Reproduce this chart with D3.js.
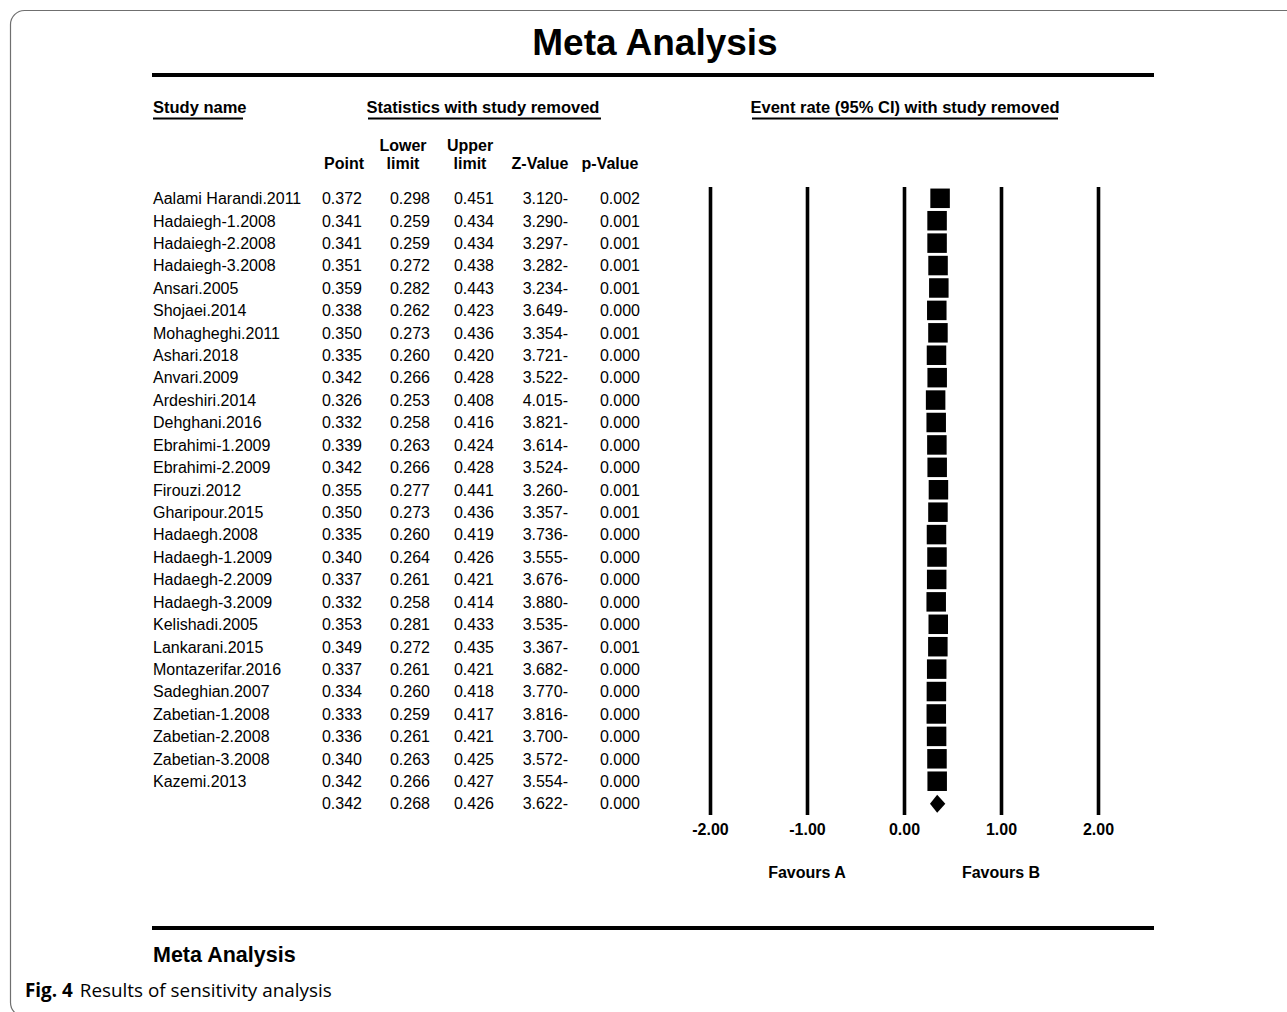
<!DOCTYPE html>
<html>
<head>
<meta charset="utf-8">
<script src="https://cdn.jsdelivr.net/npm/d3@7/dist/d3.min.js"></script>
<style>
  html, body { margin: 0; padding: 0; background: #fff; }
  svg { display: block; }
  text { font-family: "Liberation Sans", Arial, sans-serif; fill: #000; }
</style>
</head>
<body>
<svg id="chart" width="1287" height="1012"></svg>
<script>
// ---------------- data ----------------
const studyNames = [
  "Aalami Harandi.2011", "Hadaiegh-1.2008", "Hadaiegh-2.2008", "Hadaiegh-3.2008",
  "Ansari.2005", "Shojaei.2014", "Mohagheghi.2011", "Ashari.2018", "Anvari.2009",
  "Ardeshiri.2014", "Dehghani.2016", "Ebrahimi-1.2009", "Ebrahimi-2.2009",
  "Firouzi.2012", "Gharipour.2015", "Hadaegh.2008", "Hadaegh-1.2009",
  "Hadaegh-2.2009", "Hadaegh-3.2009", "Kelishadi.2005", "Lankarani.2015",
  "Montazerifar.2016", "Sadeghian.2007", "Zabetian-1.2008", "Zabetian-2.2008",
  "Zabetian-3.2008", "Kazemi.2013"
];
const pointEst = [0.372, 0.341, 0.341, 0.351, 0.359, 0.338, 0.350, 0.335, 0.342,
  0.326, 0.332, 0.339, 0.342, 0.355, 0.350, 0.335, 0.340, 0.337, 0.332, 0.353,
  0.349, 0.337, 0.334, 0.333, 0.336, 0.340, 0.342];
const lowerLimit = [0.298, 0.259, 0.259, 0.272, 0.282, 0.262, 0.273, 0.260, 0.266,
  0.253, 0.258, 0.263, 0.266, 0.277, 0.273, 0.260, 0.264, 0.261, 0.258, 0.281,
  0.272, 0.261, 0.260, 0.259, 0.261, 0.263, 0.266];
const upperLimit = [0.451, 0.434, 0.434, 0.438, 0.443, 0.423, 0.436, 0.420, 0.428,
  0.408, 0.416, 0.424, 0.428, 0.441, 0.436, 0.419, 0.426, 0.421, 0.414, 0.433,
  0.435, 0.421, 0.418, 0.417, 0.421, 0.425, 0.427];
const zValues = [-3.120, -3.290, -3.297, -3.282, -3.234, -3.649, -3.354, -3.721, -3.522,
  -4.015, -3.821, -3.614, -3.524, -3.260, -3.357, -3.736, -3.555, -3.676, -3.880,
  -3.535, -3.367, -3.682, -3.770, -3.816, -3.700, -3.572, -3.554];
const pValues = [0.002, 0.001, 0.001, 0.001, 0.001, 0.000, 0.001, 0.000, 0.000,
  0.000, 0.000, 0.000, 0.000, 0.001, 0.001, 0.000, 0.000, 0.000, 0.000, 0.000,
  0.001, 0.000, 0.000, 0.000, 0.000, 0.000, 0.000];
// overall (summary) row
const summary = { point: 0.342, lower: 0.268, upper: 0.426, z: -3.622, p: 0.000 };

const axisTicks = [-2, -1, 0, 1, 2];
const favourLabels = [{ label: "Favours A", at: -1 }, { label: "Favours B", at: 1 }];
const titleText = "Meta Analysis";
const captionBold = "Fig. 4";
const captionText = "Results of sensitivity analysis";

// ---------------- build ----------------
const rows = studyNames.map((n, i) => ({
  name: n, point: pointEst[i], lower: lowerLimit[i], upper: upperLimit[i],
  z: zValues[i], p: pValues[i], summary: false
}));
rows.push(Object.assign({ name: "", summary: true }, summary));

const svg = d3.select("#chart");
const f3 = d3.format(".3f");
const fmtZ = v => (v < 0 ? f3(-v) + "-" : f3(v));
const fTick = v => (v < 0 ? "-" + d3.format(".2f")(-v) : d3.format(".2f")(v));

// frame
svg.append("rect")
  .attr("x", 10.5).attr("y", 10.5)
  .attr("width", 1400).attr("height", 1006)
  .attr("rx", 14).attr("ry", 14)
  .attr("fill", "none").attr("stroke", "#6f6f6f").attr("stroke-width", 1.2);

// title
svg.append("text").attr("x", 655).attr("y", 55)
  .attr("text-anchor", "middle")
  .style("font-size", "37px").style("font-weight", "bold")
  .text(titleText);

// thick rules
svg.append("line").attr("x1", 152).attr("x2", 1154).attr("y1", 75).attr("y2", 75)
  .attr("stroke", "#000").attr("stroke-width", 4.2);
svg.append("line").attr("x1", 152).attr("x2", 1154).attr("y1", 928).attr("y2", 928)
  .attr("stroke", "#000").attr("stroke-width", 4.2);

// group headers with underlines
const groupHeaders = [
  { text: "Study name", x: 153, anchor: "start", u1: 153, u2: 243 },
  { text: "Statistics with study removed", x: 483, anchor: "middle", u1: 368, u2: 601 },
  { text: "Event rate (95% CI) with study removed", x: 905, anchor: "middle", u1: 752, u2: 1058 }
];
groupHeaders.forEach(h => {
  svg.append("text").attr("x", h.x).attr("y", 113)
    .attr("text-anchor", h.anchor)
    .style("font-size", "16.5px").style("font-weight", "bold")
    .text(h.text);
  svg.append("line").attr("x1", h.u1).attr("x2", h.u2).attr("y1", 118.5).attr("y2", 118.5)
    .attr("stroke", "#000").attr("stroke-width", 1.8);
});

// column headers
const columns = [
  { key: "point", h: ["", "Point"], hx: 344, right: 362, fmt: f3 },
  { key: "lower", h: ["Lower", "limit"], hx: 403, right: 430, fmt: f3 },
  { key: "upper", h: ["Upper", "limit"], hx: 470, right: 494, fmt: f3 },
  { key: "z", h: ["", "Z-Value"], hx: 540, right: 568, fmt: fmtZ },
  { key: "p", h: ["", "p-Value"], hx: 610, right: 640, fmt: f3 }
];
columns.forEach(c => {
  c.h.forEach((t, k) => {
    if (!t) return;
    svg.append("text").attr("x", c.hx).attr("y", k === 0 ? 151 : 169)
      .attr("text-anchor", "middle")
      .style("font-size", "16px").style("font-weight", "bold")
      .text(t);
  });
});

// row scale
const y = d3.scaleLinear().domain([0, rows.length - 1]).range([198.3, 198.3 + 22.42 * (rows.length - 1)]);

// table text
const rowG = svg.append("g").selectAll("g").data(rows).join("g")
  .attr("transform", (d, i) => `translate(0,${y(i) + 5.8})`);
rowG.append("text").attr("x", 153).style("font-size", "16px").text(d => d.name);
columns.forEach(c => {
  rowG.append("text").attr("x", c.right).attr("text-anchor", "end")
    .style("font-size", "16px").text(d => c.fmt(d[c.key]));
});

// forest plot
const x = d3.scaleLinear().domain([-2, 2]).range([710, 1098]);
const plotTop = 187, plotBottom = 815;

const axis = d3.axisBottom(x).tickValues(axisTicks).tickFormat(fTick)
  .tickSize(plotBottom - plotTop).tickPadding(8);
const axG = svg.append("g").attr("transform", `translate(0,${plotTop})`).call(axis);
axG.select(".domain").remove();
axG.selectAll(".tick line").attr("stroke", "#000").attr("stroke-width", 3.6);
axG.selectAll(".tick text")
  .attr("y", plotBottom - plotTop + 20)
  .attr("dy", null)
  .style("font-family", '"Liberation Sans", Arial, sans-serif')
  .style("font-size", "16px").style("font-weight", "bold").attr("fill", "#000");

// CI lines
const studyRows = rows.filter(d => !d.summary);
svg.append("g").selectAll("line").data(studyRows).join("line")
  .attr("x1", d => x(d.lower)).attr("x2", d => x(d.upper))
  .attr("y1", (d, i) => y(i)).attr("y2", (d, i) => y(i))
  .attr("stroke", "#000").attr("stroke-width", 1.5);

// squares
const sq = 19.5;
svg.append("g").selectAll("rect").data(studyRows).join("rect")
  .attr("x", d => x(d.point) - sq / 2)
  .attr("y", (d, i) => y(i) - sq / 2)
  .attr("width", sq).attr("height", sq)
  .attr("fill", "#000");

// summary diamond
const si = rows.length - 1;
const sd = rows[si];
svg.append("path")
  .attr("d", `M${x(sd.lower)},${y(si)} L${x(sd.point)},${y(si) - 9} L${x(sd.upper)},${y(si)} L${x(sd.point)},${y(si) + 9} Z`)
  .attr("fill", "#000");

// favours labels
svg.append("g").selectAll("text").data(favourLabels).join("text")
  .attr("x", d => x(d.at)).attr("y", 878)
  .attr("text-anchor", "middle")
  .style("font-size", "16px").style("font-weight", "bold")
  .text(d => d.label);

// footer title
svg.append("text").attr("x", 153).attr("y", 962)
  .style("font-size", "21.5px").style("font-weight", "bold")
  .text(titleText);

// caption
const cap = svg.append("text").attr("x", 25).attr("y", 996.5)
  .style("font-family", '"Open Sans", "Noto Sans", sans-serif')
  .style("font-size", "17px");
cap.append("tspan").style("font-weight", "bold").text(captionBold);
cap.append("tspan").attr("dx", 7).text(captionText);
// fit caption to reference width (~300px)
const cw = cap.node().getComputedTextLength();
if (cw > 0) {
  const fs = 17 * 300 / cw;
  cap.style("font-size", fs.toFixed(2) + "px");
}
</script>
</body>
</html>
